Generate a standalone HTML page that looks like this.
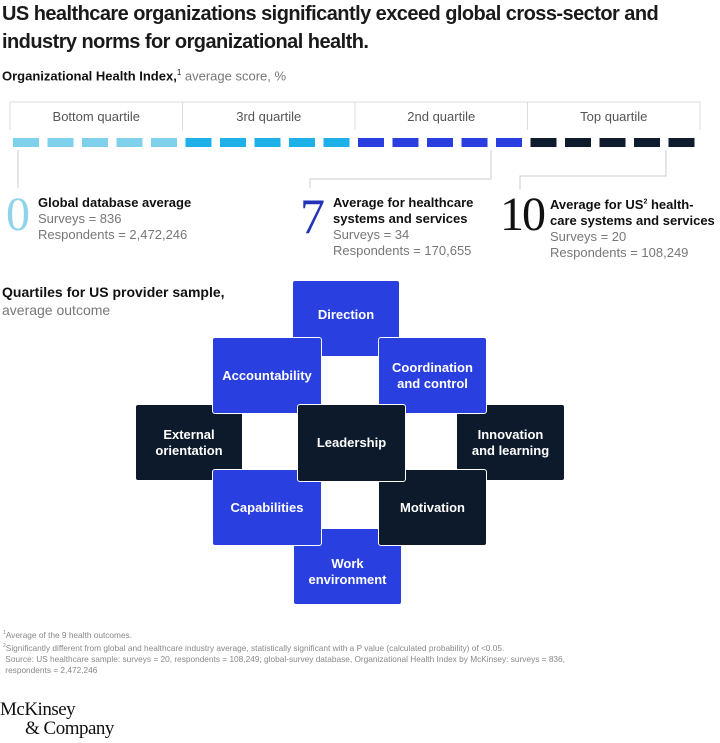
<!DOCTYPE html>
<html><head><meta charset="utf-8"><style>
body{margin:0;width:720px;height:743px;background:#fff;font-family:"Liberation Sans",sans-serif;position:relative;overflow:hidden;color:#111}
.a{position:absolute}
.box{position:absolute;color:#fff;font-weight:bold;font-size:13px;display:flex;align-items:center;justify-content:center;text-align:center;line-height:16px;border:1px solid #fff;border-radius:3px;box-sizing:border-box}
.bl{background:#2a3fe0}.dk{background:#0d1a2b}
.g{color:#777}
</style></head><body>
<div class="a" style="left:2px;top:0;font-size:20px;line-height:28px;width:700px;color:#1a1a1a;font-weight:bold;letter-spacing:-0.55px">US healthcare organizations significantly exceed global cross-sector and industry norms for organizational health.</div>
<div class="a" style="left:2px;top:68px;font-size:13px"><b>Organizational Health Index,</b><sup style="font-size:8px">1</sup> <span class="g">average score, %</span></div>
<svg class="a" style="left:0;top:0" width="720" height="280">
<g id="q" fill="none" stroke="#ddd"></g>
<g id="d"></g>
<g fill="none" stroke="#ccc" stroke-width="1">
<path d="M18 150V188"/>
<path d="M491 150V179H310V188"/>
<path d="M666 150V176H520V190"/>
</g>
</svg>
<script>
const quartiles=["Bottom quartile","3rd quartile","2nd quartile","Top quartile"];
const qcolors=["#7fd0ea","#1eb0e8","#2a3ee0","#0f1c2e"];
const dashesPerQ=5;
const q=document.getElementById('q'),d=document.getElementById('d'),ns="http://www.w3.org/2000/svg";
const x0=10,qw=172.5;
quartiles.forEach((name,i)=>{
 const l=document.createElementNS(ns,'path');
 l.setAttribute('d',`M${x0+i*qw} 102V130 M${x0+i*qw} 102H${x0+(i+1)*qw}`+(i==3?`V130`:''));
 
 
 q.appendChild(l);
 const t=document.createElementNS(ns,'text');
 t.setAttribute('x',x0+i*qw+qw/2);t.setAttribute('y',121);t.setAttribute('text-anchor','middle');
 t.setAttribute('font-size','13');t.setAttribute('fill','#555');t.setAttribute('stroke','none');t.textContent=name;
 
 
 q.appendChild(t);
 for(let k=0;k<dashesPerQ;k++){
  const r=document.createElementNS(ns,'rect');
  r.setAttribute('x',x0+3+(i*dashesPerQ+k)*34.5);r.setAttribute('y',138);r.setAttribute('width',26);r.setAttribute('height',9);r.setAttribute('fill',qcolors[i]);
  
  
  d.appendChild(r);
 }
});
</script>
<div class="a" style="left:6px;top:190px">
<div class="a" style="left:0;top:0;font-family:'Liberation Serif',serif;font-size:48px;color:#8fd3ea;line-height:50px">0</div>
<div class="a" style="left:32px;top:5px;width:220px;font-size:13px;line-height:16px"><b>Global database average</b><br><span class="g">Surveys = 836<br>Respondents = 2,472,246</span></div></div>
<div class="a" style="left:300px;top:190px">
<div class="a" style="left:0;top:0;font-family:'Liberation Serif',serif;font-size:50px;color:#2233b8;line-height:52px">7</div>
<div class="a" style="left:33px;top:5px;width:200px;font-size:13px;line-height:16px"><b>Average for healthcare<br>systems and services</b><br><span class="g">Surveys = 34<br>Respondents = 170,655</span></div></div>
<div class="a" style="left:500px;top:190px">
<div class="a" style="left:0;top:0;font-family:'Liberation Serif',serif;font-size:48px;color:#111;line-height:50px;letter-spacing:-2px">10</div>
<div class="a" style="left:50px;top:5px;width:200px;font-size:13px;line-height:16px"><b>Average for US<sup style="font-size:7px">2</sup> health-<br>care systems and services</b><br><span class="g">Surveys = 20<br>Respondents = 108,249</span></div></div>
<div class="a" style="left:2px;top:283px;font-size:14px;line-height:18px"><b>Quartiles for US provider sample,</b><br><span class="g">average outcome</span></div>
<div class="box bl" style="left:292px;top:280px;width:108px;height:77px;padding-bottom:8px">Direction</div>
<div class="box bl" style="left:293px;top:528px;width:109px;height:77px;padding-top:10px">Work<br>environment</div>
<div class="box dk" style="left:135px;top:404px;width:108px;height:77px">External<br>orientation</div>
<div class="box dk" style="left:456px;top:404px;width:109px;height:77px">Innovation<br>and learning</div>
<div class="box bl" style="left:212px;top:337px;width:110px;height:77px">Accountability</div>
<div class="box bl" style="left:378px;top:337px;width:109px;height:77px">Coordination<br>and control</div>
<div class="box bl" style="left:212px;top:469px;width:110px;height:77px">Capabilities</div>
<div class="box dk" style="left:378px;top:469px;width:109px;height:77px">Motivation</div>
<div class="box dk" style="left:297px;top:404px;width:109px;height:78px">Leadership</div>
<div class="a g" style="left:3px;top:628px;font-size:8.3px;line-height:11px;width:700px;color:#888"><sup style="font-size:5px">1</sup>Average of the 9 health outcomes.<br><sup style="font-size:5px">2</sup>Significantly different from global and healthcare industry average, statistically significant with a P value (calculated probability) of &lt;0.05.<br>&nbsp;Source: US healthcare sample: surveys = 20, respondents = 108,249; global-survey database, Organizational Health Index by McKinsey: surveys = 836,<br>&nbsp;respondents = 2,472,246</div>
<div class="a" style="left:0;top:700px;font-family:'Liberation Serif',serif;font-size:19px;line-height:19px;letter-spacing:-0.5px;color:#111">McKinsey<br><span style="padding-left:25px">&amp; Company</span></div>
</body></html>
